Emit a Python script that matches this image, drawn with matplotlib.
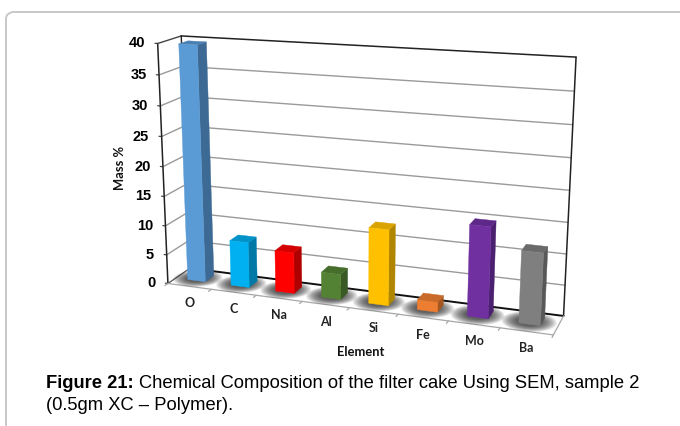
import numpy as np
import matplotlib
matplotlib.use("Agg")
import matplotlib.pyplot as plt
from matplotlib.patches import Polygon

# dados
elementos = ["O", "C", "Na", "Al", "Si", "Fe", "Mo", "Ba"]
massa = [39.6, 7.7, 6.9, 4.2, 12.5, 1.6, 14.7, 11.5]
yticks = [0, 5, 10, 15, 20, 25, 30, 35, 40]
cor_frente = ["#5B9BD5", "#00B0F0", "#FF0000", "#548235", "#FFC000", "#ED7D31", "#7030A0", "#7F7F7F"]
cor_lado = ["#3D6A94", "#0079A6", "#AE0000", "#395A24", "#B08500", "#A65620", "#4C2070", "#585858"]
cor_topo = ["#4A80B2", "#0092C8", "#D40000", "#466D2C", "#D9A300", "#C96A28", "#5E2888", "#6A6A6A"]

nx = len(elementos)
vmax = 40

# cantos da caixa 3D (x, profundidade, valor) -> pixel na imagem
cantos = [
    ((0, 0, 0), (168.5, 283.5)),
    ((0, 0, 20), (162.5, 166)),
    ((0, 0, vmax), (157, 43.5)),
    ((0, 1, 0), (189, 268)),
    ((0, 1, vmax), (182, 36.5)),
    ((nx, 1, 0), (563.5, 316)),
    ((nx, 1, 20), (570, 190)),
    ((nx, 1, vmax), (576, 57)),
    ((nx, 0, 0), (553, 335)),
    ((1, 0, 0), (212, 289.5)),
    ((4, 0, 0), (350, 308)),
    ((6, 0, 0), (448, 321)),
]

def calibra(cantos):
    A = []
    for (X, Y, Z), (u, v) in cantos:
        A.append([X, Y, Z, 1, 0, 0, 0, 0, -u*X, -u*Y, -u*Z, -u])
        A.append([0, 0, 0, 0, X, Y, Z, 1, -v*X, -v*Y, -v*Z, -v])
    return np.linalg.svd(np.array(A, float))[2][-1].reshape(3, 4)

P = calibra(cantos)

def proj(x, d, z):
    p = P @ np.array([x, d, z, 1.0])
    return p[0]/p[2], p[1]/p[2]

fig = plt.figure(figsize=(6.8, 4.26), dpi=100)
ax = fig.add_axes([0, 0, 1, 1])
ax.set_xlim(0, 680)
ax.set_ylim(426, 0)
ax.axis("off")

# moldura da pagina
ax.plot([6, 6, 7, 9, 12, 680], [425, 18, 15, 13.5, 12, 12], color="#C4C4C4", lw=1.3)

def linha(a, b, cor, lw=1.0, z=1):
    pa, pb = proj(*a), proj(*b)
    ax.plot([pa[0], pb[0]], [pa[1], pb[1]], color=cor, lw=lw, zorder=z, solid_capstyle="round")

# grades
for v in yticks:
    linha((0, 0, v), (-0.06, 0, v), "#444444", 0.9)
for v in yticks[1:-1]:
    linha((0, 0, v), (0, 1, v), "#9A9A9A")
    linha((0, 1, v), (nx, 1, v), "#9A9A9A")

# caixa
linha((0, 0, 0), (0, 0, vmax), "#222222", 1.1)
linha((0, 0, vmax), (0, 1, vmax), "#444444", 1.0)
linha((0, 1, vmax), (nx, 1, vmax), "#222222", 1.1)
linha((nx, 1, vmax), (nx, 1, 0), "#222222", 1.1)
linha((0, 1, vmax), (0, 1, 0), "#222222", 1.0)
linha((0, 1, 0), (nx, 1, 0), "#111111", 1.4)
linha((0, 0, 0), (0, 1, 0), "#555555", 0.9)
linha((0, 0, 0), (nx, 0, 0), "#A8A8A8", 0.9)
linha((nx, 0, 0), (nx, 1, 0), "#A8A8A8", 0.9)
for i in range(nx + 1):
    linha((i, 0, 0), (i, -0.13, 0), "#A8A8A8", 0.9)

larg = 0.41
d0, d1 = 0.36, 0.76

def face(pts, cor, z):
    ax.add_patch(Polygon([proj(*p) for p in pts], closed=True, fc=cor, ec=cor, lw=0.3, zorder=z))

ang = np.linspace(0, 2*np.pi, 48)

for i, h in enumerate(massa):
    x0 = i + 0.5 - larg/2 - 0.02
    x1 = x0 + larg
    # sombra no chao: elipses sobrepostas para ficar suave
    cx, cd = (x0 + x1)/2 - 0.04, (d0 + d1)/2 - 0.06
    for k in np.linspace(1.0, 0.45, 16):
        rx, rd = k*0.52, k*0.52
        pts = [proj(cx + rx*np.cos(a), cd + rd*np.sin(a), 0) for a in ang]
        ax.add_patch(Polygon(pts, closed=True, fc="#202020", ec="none", alpha=0.07, zorder=2))
    face([(x1, d0, 0), (x1, d1, 0), (x1, d1, h), (x1, d0, h)], cor_lado[i], 3)
    face([(x0, d0, h), (x1, d0, h), (x1, d1, h), (x0, d1, h)], cor_topo[i], 3)
    face([(x0, d0, 0), (x1, d0, 0), (x1, d0, h), (x0, d0, h)], cor_frente[i], 4)

# rotulos
for v in yticks:
    px, py = proj(0, 0, v)
    ax.text(px - 12.5, py, str(v), ha="right", va="center", fontsize=10.5,
            fontfamily="Liberation Sans", fontweight="bold", color="black")
for i, nome in enumerate(elementos):
    px, py = proj(i + 0.5, 0, 0)
    ax.text(px, py + 17, nome, ha="center", va="center", fontsize=9,
            fontfamily="Lato", fontweight="bold", color="#222222")
ax.text(120, 168, "Mass %", rotation=90, ha="center", va="center", fontsize=9.4,
        fontfamily="Lato", fontweight="bold", color="#111111")
ax.text(361, 352, "Element", ha="center", va="center", fontsize=9.3,
        fontfamily="Lato", fontweight="bold", color="#111111")

# legenda da figura
tam = 13.25
t = ax.text(46, 383, "Figure 21:", ha="left", va="center", fontsize=tam,
            fontfamily="Liberation Sans", fontweight="bold", color="black")
fig.canvas.draw()
bb = t.get_window_extent()
ax.text(bb.x1 + 5.5, 383, "Chemical Composition of the filter cake Using SEM, sample 2", ha="left", va="center",
        fontsize=tam, fontfamily="Liberation Sans", color="black")
ax.text(46, 405, "(0.5gm XC – Polymer).", ha="left", va="center", fontsize=tam,
        fontfamily="Liberation Sans", color="black")

plt.savefig("out.png", dpi=100)
